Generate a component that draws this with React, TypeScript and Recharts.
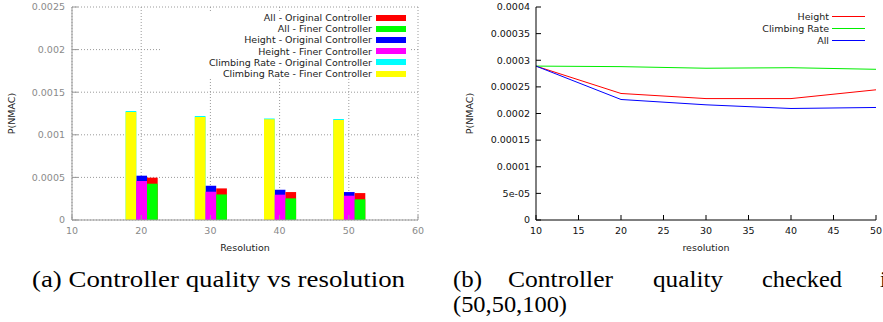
import { Bar, ComposedChart, XAxis, YAxis, CartesianGrid, Legend, Label, LineChart, Line } from 'recharts'

// (a) bars: P(NMAC) per resolution
const RESOLUTIONS = [20, 30, 40, 50]
const CLIMB_ORIG = [0.00128, 0.00122, 0.00119, 0.001185]
const CLIMB_FINER = [0.001268, 0.00121, 0.001183, 0.001175]
const HEIGHT_ORIG = [0.00052, 0.000402, 0.000355, 0.000328]
const HEIGHT_FINER = [0.000458, 0.000332, 0.000297, 0.000285]
const ALL_ORIG = [0.000497, 0.000371, 0.000328, 0.000316]
const ALL_FINER = [0.000426, 0.0003, 0.000254, 0.000243]
const X_TICKS_A = [10, 20, 30, 40, 50, 60]
const Y_TICKS_A = [0, 0.0005, 0.001, 0.0015, 0.002, 0.0025]

// (b) lines
const RES_B = [10, 20, 30, 40, 50]
const HEIGHT_B = [0.000289, 0.0002376, 0.000228, 0.000228, 0.0002445]
const CLIMB_B = [0.000289, 0.000288, 0.000285, 0.000286, 0.000283]
const ALL_B = [0.000289, 0.0002263, 0.0002163, 0.0002094, 0.0002113]
const X_TICKS_B = [10, 15, 20, 25, 30, 35, 40, 45, 50]
const Y_TICKS_B = [0, 0.00005, 0.0001, 0.00015, 0.0002, 0.00025, 0.0003, 0.00035, 0.0004]

const BAR_LEGEND_ORDER = [
  'All - Original Controller',
  'All - Finer Controller',
  'Height - Original Controller',
  'Height - Finer Controller',
  'Climbing Rate - Original Controller',
  'Climbing Rate - Finer Controller',
]
const LINE_LEGEND_ORDER = ['Height', 'Climbing Rate', 'All']

const barRows = RESOLUTIONS.map((res, i) => ({
  res,
  climbOrig: CLIMB_ORIG[i],
  climbFiner: CLIMB_FINER[i],
  heightOrig: HEIGHT_ORIG[i],
  heightFiner: HEIGHT_FINER[i],
  allOrig: ALL_ORIG[i],
  allFiner: ALL_FINER[i],
}))

const lineRows = RES_B.map((res, i) => ({ res, height: HEIGHT_B[i], climb: CLIMB_B[i], all: ALL_B[i] }))

const FONT = "'DejaVu Sans', sans-serif"
const FS = 9.5

const fmtB = (v: number) => (v > 0 && v < 0.0001 ? v.toExponential().replace(/e-(\d)$/, 'e-0$1') : String(v))

const byOrder = (order: string[]) => (a: any, b: any) => order.indexOf(a.value) - order.indexOf(b.value)

const yTitle = (dx: number, text: string) => (props: any) => {
  const vb = props.viewBox
  const x = vb.x + dx
  const y = vb.y + vb.height / 2
  return (
    <text x={x} y={y} transform={`rotate(-90 ${x} ${y})`} textAnchor="middle" dominantBaseline="central" fontSize={FS} fill="#222" fontFamily={FONT}>
      {text}
    </text>
  )
}

const xTitle = (cx: number, dy: number, text: string) => (props: any) => {
  const vb = props.viewBox
  return (
    <text x={cx} y={vb.y + dy} textAnchor="middle" dominantBaseline="central" fontSize={FS} fill="#222" fontFamily={FONT}>
      {text}
    </text>
  )
}

function BarLegend({ payload }: any) {
  const items = [...(payload ?? [])].sort(byOrder(BAR_LEGEND_ORDER))
  return (
    <div style={{ background: '#fff', width: 251, paddingRight: 5, boxSizing: 'border-box', fontFamily: FONT }}>
      {items.map((item: any) => (
        <div key={item.value} style={{ display: 'flex', justifyContent: 'flex-end', alignItems: 'center', height: 11.2, fontSize: FS, color: '#222' }}>
          <span style={{ whiteSpace: 'nowrap' }}>{item.value}</span>
          <span style={{ width: 30, height: 6, background: item.color, marginLeft: 4 }} />
        </div>
      ))}
    </div>
  )
}

function LineLegend({ payload }: any) {
  const items = [...(payload ?? [])].sort(byOrder(LINE_LEGEND_ORDER))
  return (
    <div style={{ fontFamily: FONT }}>
      {items.map((item: any) => (
        <div key={item.value} style={{ display: 'flex', justifyContent: 'flex-end', alignItems: 'center', height: 12, fontSize: FS, color: '#222' }}>
          <span style={{ whiteSpace: 'nowrap' }}>{item.value}</span>
          <span style={{ width: 33, height: 1, background: item.color, marginLeft: 3 }} />
        </div>
      ))}
    </div>
  )
}

function QualityBars() {
  const tickA = { fontSize: FS, fill: '#8a8a8a', fontFamily: FONT }
  return (
    <ComposedChart width={440} height={260} data={barRows} margin={{ top: 7, right: 22, bottom: 0, left: 0 }} barGap={0}>
      <CartesianGrid xAxisId="orig" stroke="#9a9a9a" strokeDasharray="1 2" />
      <XAxis
        xAxisId="orig"
        dataKey="res"
        type="number"
        domain={[10, 60]}
        ticks={X_TICKS_A}
        interval={0}
        height={40}
        stroke="#999"
        tickSize={-5}
        tickMargin={12}
        tick={tickA}
      >
        <Label content={xTitle(245, 27, 'Resolution')} />
      </XAxis>
      <XAxis xAxisId="finer" dataKey="res" type="number" domain={[10, 60]} ticks={X_TICKS_A} height={0} hide />
      <YAxis
        type="number"
        domain={[0, 0.0025]}
        ticks={Y_TICKS_A}
        interval={0}
        width={72}
        stroke="#999"
        tickSize={-6}
        tickMargin={13}
        tick={tickA}
      >
        <Label content={yTitle(11.7, 'P(NMAC)')} />
      </YAxis>
      <Legend
        layout="vertical"
        align="center"
        verticalAlign="middle"
        wrapperStyle={{ top: 12, left: 160, width: 251 }}
        content={<BarLegend />}
      />
      <Bar xAxisId="orig" dataKey="climbOrig" name="Climbing Rate - Original Controller" fill="#00ffff" barSize={10.7} isAnimationActive={false} />
      <Bar xAxisId="orig" dataKey="heightOrig" name="Height - Original Controller" fill="#0000ff" barSize={10.7} isAnimationActive={false} />
      <Bar xAxisId="orig" dataKey="allOrig" name="All - Original Controller" fill="#ff0000" barSize={10.7} isAnimationActive={false} />
      <Bar xAxisId="finer" dataKey="climbFiner" name="Climbing Rate - Finer Controller" fill="#ffff00" barSize={10.7} isAnimationActive={false} />
      <Bar xAxisId="finer" dataKey="heightFiner" name="Height - Finer Controller" fill="#ff00ff" barSize={10.7} isAnimationActive={false} />
      <Bar xAxisId="finer" dataKey="allFiner" name="All - Finer Controller" fill="#00ff00" barSize={10.7} isAnimationActive={false} />
    </ComposedChart>
  )
}

function QualityLines() {
  const tickB = { fontSize: FS, fill: '#111', fontFamily: FONT }
  return (
    <LineChart width={443} height={260} data={lineRows} margin={{ top: 7, right: 7, bottom: 0, left: 0 }}>
      <XAxis
        xAxisId="b"
        dataKey="res"
        type="number"
        domain={[10, 50]}
        ticks={X_TICKS_B}
        interval={0}
        height={40}
        stroke="#000"
        tickSize={-5}
        tickMargin={12}
        tick={tickB}
      >
        <Label content={xTitle(266, 27, 'resolution')} />
      </XAxis>
      <XAxis xAxisId="t" orientation="top" dataKey="res" type="number" domain={[10, 50]} ticks={X_TICKS_B} interval={0} height={0} stroke="#000" tickSize={-5} tickFormatter={() => ''} />
      <YAxis
        yAxisId="l"
        type="number"
        domain={[0, 0.0004]}
        ticks={Y_TICKS_B}
        interval={0}
        width={96}
        stroke="#000"
        tickSize={-5}
        tickMargin={11}
        tick={tickB}
        tickFormatter={fmtB}
      >
        <Label content={yTitle(29, 'P(NMAC)')} />
      </YAxis>
      <YAxis yAxisId="r" orientation="right" type="number" domain={[0, 0.0004]} ticks={Y_TICKS_B} interval={0} width={0} stroke="#000" tickSize={-5} tickFormatter={() => ''} />
      <Legend
        layout="vertical"
        align="center"
        verticalAlign="middle"
        wrapperStyle={{ top: 10.5, left: 250, width: 175 }}
        content={<LineLegend />}
      />
      <Line xAxisId="b" yAxisId="l" dataKey="height" name="Height" stroke="#ff0000" strokeWidth={1} dot={false} isAnimationActive={false} />
      <Line xAxisId="b" yAxisId="l" dataKey="climb" name="Climbing Rate" stroke="#00ee00" strokeWidth={1} dot={false} isAnimationActive={false} />
      <Line xAxisId="b" yAxisId="l" dataKey="all" name="All" stroke="#0000ff" strokeWidth={1} dot={false} isAnimationActive={false} />
    </LineChart>
  )
}

const CAPTION_B = [
  { t: '(b)', x: 453, w: 29 },
  { t: 'Controller', x: 508, w: 105 },
  { t: 'quality', x: 653, w: 70 },
  { t: 'checked', x: 762, w: 80 },
  { t: 'in', x: 880, w: 18 },
]

export default function App() {
  return (
    <div style={{ position: 'absolute', left: 0, top: 0, width: 883, height: 322, overflow: 'hidden', background: '#fff' }}>
      <div style={{ position: 'absolute', left: 0, top: 0 }}>
        <QualityBars />
      </div>
      <div style={{ position: 'absolute', left: 440, top: 0 }}>
        <QualityLines />
      </div>
      <svg width={883} height={322} style={{ position: 'absolute', left: 0, top: 0, pointerEvents: 'none' }} fontFamily="'Liberation Serif', serif" fontSize={23.5} fill="#000">
        <text x={32} y={287} textLength={373} lengthAdjust="spacingAndGlyphs">(a) Controller quality vs resolution</text>
        {CAPTION_B.map((w) => (
          <text key={w.t} x={w.x} y={287} textLength={w.w} lengthAdjust="spacingAndGlyphs">{w.t}</text>
        ))}
        <text x={453} y={312} textLength={114} lengthAdjust="spacingAndGlyphs">(50,50,100)</text>
      </svg>
    </div>
  )
}
